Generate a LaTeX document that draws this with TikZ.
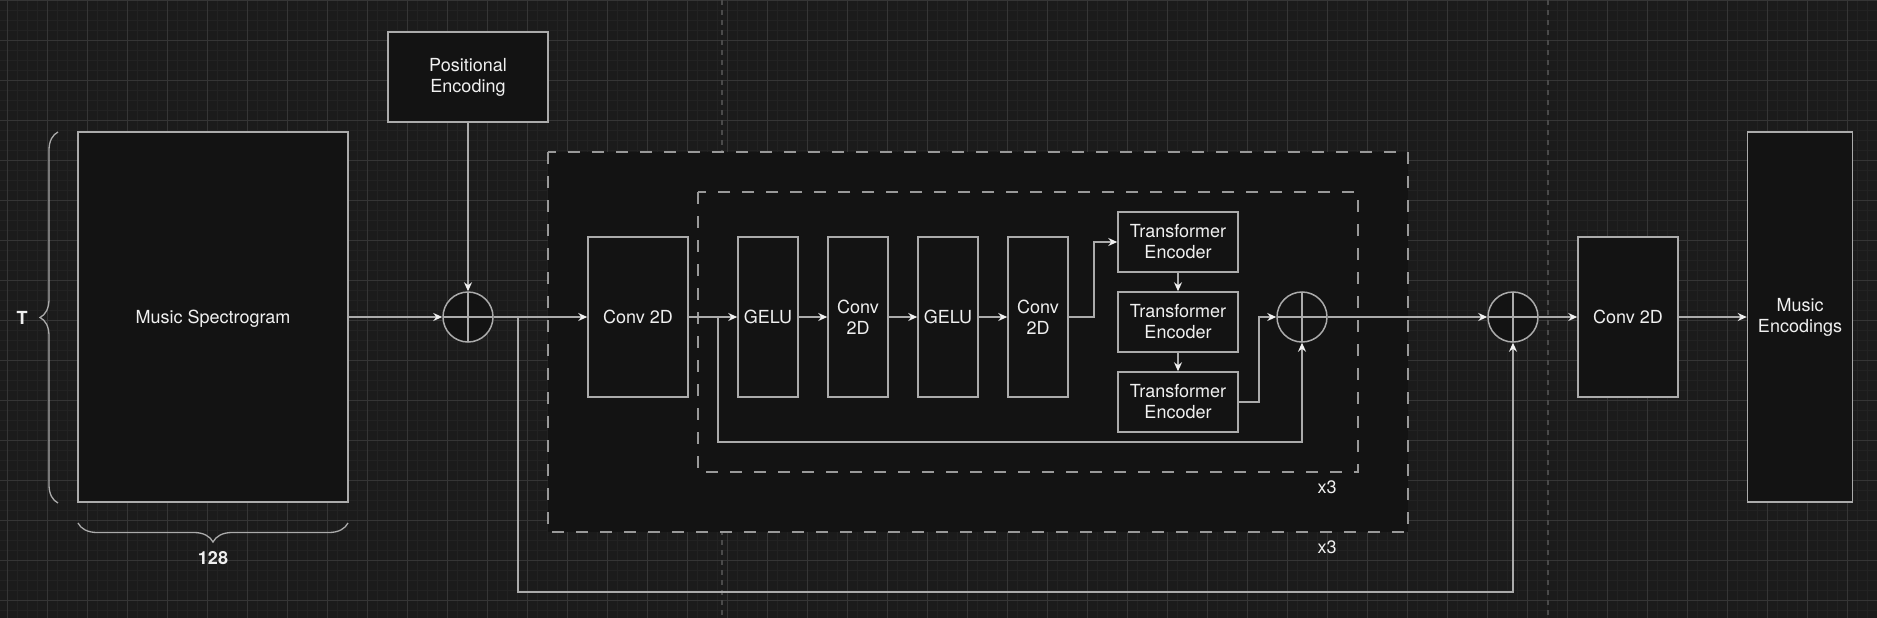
\documentclass[tikz,border=0pt]{standalone}
\usepackage{fontspec}
\setmainfont{TeX Gyre Heros}
\usetikzlibrary{arrows.meta, decorations.pathreplacing}

\definecolor{canvasbg}{HTML}{1B1B1B}
\definecolor{gridminor}{HTML}{222222}
\definecolor{gridmajor}{HTML}{353535}
\definecolor{boxfill}{HTML}{131313}
\definecolor{edgegray}{HTML}{ABABAB}
\definecolor{dashgray}{HTML}{999999}
\definecolor{pagegray}{HTML}{4A4A4A}
\definecolor{inkwhite}{HTML}{F0F0F0}

\begin{document}
\begin{tikzpicture}[x=1pt, y=-1pt,
		every node/.style={font=\fontsize{18}{21}\selectfont, text=inkwhite},
		blk/.style={draw=edgegray, fill=boxfill, line width=1.5pt, inner sep=0pt, align=center},
		sumnode/.style={circle, draw=edgegray, fill=boxfill, line width=1.5pt, minimum size=50pt, inner sep=0pt,
			path picture={\draw[edgegray, line width=1.5pt] (path picture bounding box.north) -- (path picture bounding box.south) (path picture bounding box.west) -- (path picture bounding box.east);}},
		grp/.style={draw=dashgray, fill=boxfill, line width=1.5pt, dash pattern=on 12pt off 12pt},
		link/.style={draw=edgegray, line width=1.5pt, -{Stealth[length=9pt, width=8pt, inset=3pt, color=inkwhite]}},
		brc/.style={draw=edgegray, line width=1.3pt, decorate},
		dimtxt/.style={font=\fontsize{18}{21}\selectfont\bfseries}]
			\useasboundingbox (0,0) rectangle (1877,618);
			\fill[canvasbg] (0,0) rectangle (1877,618);
			\foreach \gx in {0,...,187} \draw[gridminor, line width=1pt] (7.7+10*\gx,0) -- (7.7+10*\gx,618);
			\foreach \gy in {0,...,61} \draw[gridminor, line width=1pt] (0,0.7+10*\gy) -- (1877,0.7+10*\gy);
			\foreach \gx in {0,...,46} \draw[gridmajor, line width=1.2pt] (7.7+40*\gx,0) -- (7.7+40*\gx,618);
			\foreach \gy in {0,...,15} \draw[gridmajor, line width=1.2pt] (0,0.7+40*\gy) -- (1877,0.7+40*\gy);
			\draw[pagegray, line width=1.2pt, dash pattern=on 5pt off 5pt] (722,0) -- (722,618);
			\draw[pagegray, line width=1.2pt, dash pattern=on 5pt off 5pt] (1548,0) -- (1548,618);

			\draw[grp] (548,152) rectangle (1408,532);
			\draw[grp] (698,192) rectangle (1358,472);

			\node[blk, minimum width=160pt, minimum height=90pt] (posenc) at (468,77) {Positional\\Encoding};
			\node[blk, minimum width=270pt, minimum height=370pt, text depth=0pt] (spec) at (213,317) {Music Spectrogram};
			\node[sumnode] (sum1) at (468,317) {};
			\node[blk, minimum width=100pt, minimum height=160pt] (conva) at (638,317) {Conv 2D};
			\node[blk, minimum width=60pt, minimum height=160pt] (gelua) at (768,317) {GELU};
			\node[blk, minimum width=60pt, minimum height=160pt] (convb) at (858,317) {Conv\\2D};
			\node[blk, minimum width=60pt, minimum height=160pt] (gelub) at (948,317) {GELU};
			\node[blk, minimum width=60pt, minimum height=160pt] (convc) at (1038,317) {Conv\\2D};
			\node[blk, minimum width=120pt, minimum height=60pt] (tfa) at (1178,242) {Transformer\\Encoder};
			\node[blk, minimum width=120pt, minimum height=60pt] (tfb) at (1178,322) {Transformer\\Encoder};
			\node[blk, minimum width=120pt, minimum height=60pt] (tfc) at (1178,402) {Transformer\\Encoder};
			\node[sumnode] (sum2) at (1302,317) {};
			\node[sumnode] (sum3) at (1513,317) {};
			\node[blk, minimum width=100pt, minimum height=160pt] (convd) at (1628,317) {Conv 2D};
			\node[blk, minimum width=105pt, minimum height=370pt] (enc) at (1800,317) {Music\\Encodings};

			\node (repin) at (1327,487) {x3};
			\node (repout) at (1327,547) {x3};
			\node[dimtxt] (tlab) at (22,318) {T};
			\node[dimtxt] (flab) at (213,558) {128};

			\coordinate (skipa) at (518,592);
			\coordinate (skipb) at (718,442);

			\draw[link] (spec) -- (sum1);
			\draw[link] (posenc) -- (sum1);
			\draw[link] (sum1) -- (conva);
			\draw[link] (sum1.east) -| (skipa) -| (sum3.south);
			\draw[link] (conva) -- (gelua);
			\draw[link] (conva.east -| skipb) -- (skipb) -| (sum2.south);
			\draw[link] (gelua) -- (convb);
			\draw[link] (convb) -- (gelub);
			\draw[link] (gelub) -- (convc);
			\draw[link] (convc.east) -- ++(25,0) |- (tfa.west);
			\draw[link] (tfa) -- (tfb);
			\draw[link] (tfb) -- (tfc);
			\draw[link] (tfc.east) -- ++(20,0) |- (sum2.west);
			\draw[link] (sum2) -- (sum3);
			\draw[link] (sum3) -- (convd);
			\draw[link] (convd) -- (enc);

			\draw[brc, decoration={brace, amplitude=18pt}] (58,503) -- (58,132);
			\draw[brc, decoration={brace, amplitude=19pt}] (348,523) -- (78,523);
		\end{tikzpicture}
\end{document}
